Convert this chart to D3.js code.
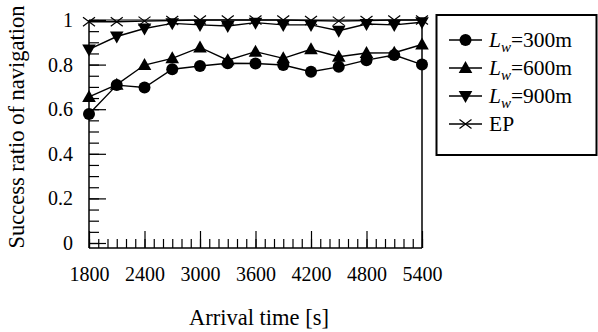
<!DOCTYPE html>
<html><head><meta charset="utf-8">
<script src="https://cdn.jsdelivr.net/npm/d3@7"></script>
<style>
html,body{margin:0;padding:0;background:#fff;}
text{font-family:"Liberation Serif","DejaVu Serif",serif;fill:#000;}
</style></head>
<body>
<svg id="chart" width="598" height="332"></svg>
<script>
const times = [1800,2100,2400,2700,3000,3300,3600,3900,4200,4500,4800,5100,5400];
const lw300 = [0.578,0.708,0.697,0.779,0.794,0.806,0.805,0.798,0.768,0.790,0.820,0.843,0.800];
const lw600 = [0.655,0.710,0.798,0.828,0.877,0.820,0.858,0.828,0.869,0.835,0.852,0.853,0.890];
const lw900 = [0.868,0.926,0.962,0.985,0.978,0.973,0.988,0.978,0.978,0.952,0.982,0.978,0.990];
const ep    = [0.992,0.992,0.995,0.998,1.0,1.0,1.0,1.0,0.998,0.995,0.998,1.0,1.0];
const xMajorTicks = [1800,2400,3000,3600,4200,4800,5400];
const yMajorTicks = [0,0.2,0.4,0.6,0.8,1];
const legendLabels = ["300m","600m","900m","EP"];

const svg = d3.select("#chart");
const x = d3.scaleLinear().domain([1800,5400]).range([89,422]);
const y = d3.scaleLinear().domain([0,1]).range([243,20]);
const yBottom = 248;

// frame
const g = svg.append("g");
g.append("line").attr("x1",89).attr("x2",89).attr("y1",y(1)).attr("y2",yBottom).attr("stroke","#000").attr("stroke-width",1.5);
g.append("line").attr("x1",89).attr("x2",422).attr("y1",yBottom).attr("y2",yBottom).attr("stroke","#000").attr("stroke-width",1.5);
g.append("line").attr("x1",422).attr("x2",422).attr("y1",y(1)).attr("y2",yBottom).attr("stroke","#000").attr("stroke-width",1.5);
g.append("line").attr("x1",89).attr("x2",422).attr("y1",y(1)).attr("y2",y(1)).attr("stroke","#000").attr("stroke-width",1.2);

// x axis ticks
const xMinor = d3.range(1800,5401,100);
const xaMinor = svg.append("g").attr("transform",`translate(0,${yBottom})`)
  .call(d3.axisBottom(x).tickValues(xMinor).tickSize(-9).tickFormat(""));
const xaMajor = svg.append("g").attr("transform",`translate(0,${yBottom})`)
  .call(d3.axisBottom(x).tickValues(xMajorTicks).tickSize(-17).tickPadding(19).tickFormat(d3.format("d")));
[xaMinor,xaMajor].forEach(a=>{a.select(".domain").remove(); a.selectAll("line").attr("stroke","#000").attr("stroke-width",1.2);});
xaMajor.selectAll("text").attr("font-size",20);

// y axis ticks
const yMinor = d3.range(0,1.0001,0.05);
const yaMinor = svg.append("g").attr("transform","translate(89,0)")
  .call(d3.axisLeft(y).tickValues(yMinor).tickSize(-10).tickFormat(""));
const yaMajor = svg.append("g").attr("transform","translate(89,0)")
  .call(d3.axisLeft(y).tickValues(yMajorTicks).tickSize(-17).tickPadding(16).tickFormat(d=>d3.format("")(+d.toFixed(1))));
[yaMinor,yaMajor].forEach(a=>{a.select(".domain").remove(); a.selectAll("line").attr("stroke","#000").attr("stroke-width",1.2);});
yaMajor.selectAll("text").attr("font-size",20);

// titles
svg.append("text").attr("x",259).attr("y",325).attr("text-anchor","middle").attr("font-size",22.5).text("Arrival time [s]");
svg.append("text").attr("transform","translate(24,127) rotate(-90)").attr("text-anchor","middle").attr("font-size",22.5).text("Success ratio of navigation");

// markers
function drawMarker(sel, type){
  if(type==="circle") sel.append("circle").attr("r",6).attr("fill","#000");
  else if(type==="up") sel.append("path").attr("d","M0,-7L6.8,5L-6.8,5Z").attr("fill","#000");
  else if(type==="down") sel.append("path").attr("d","M0,7L6.8,-5L-6.8,-5Z").attr("fill","#000");
  else if(type==="x") sel.append("path").attr("d","M-6,-4.5L6,4.5M-6,4.5L6,-4.5").attr("stroke","#000").attr("stroke-width",1.2).attr("fill","none");
}
const series = [
  {vals:lw300,m:"circle"},
  {vals:lw600,m:"up"},
  {vals:lw900,m:"down"},
  {vals:ep,m:"x"}
];
const line = d3.line().x((d,i)=>x(times[i])).y(d=>y(d));
series.slice().reverse().forEach(s=>{
  svg.append("path").datum(s.vals).attr("d",line).attr("fill","none").attr("stroke","#000").attr("stroke-width",1.4);
});
series.slice().reverse().forEach(s=>{
  s.vals.forEach((v,i)=>{
    const mg = svg.append("g").attr("transform",`translate(${x(times[i])},${y(v)})`);
    drawMarker(mg,s.m);
  });
});

// legend
const lg = svg.append("g");
lg.append("rect").attr("x",436.5).attr("y",15).attr("width",160).attr("height",140).attr("fill","#fff").attr("stroke","#000").attr("stroke-width",2);
const rowY = [40,68,96,124];
series.forEach((s,i)=>{
  lg.append("line").attr("x1",449).attr("x2",482).attr("y1",rowY[i]).attr("y2",rowY[i]).attr("stroke","#000").attr("stroke-width",1.4);
  const mg = lg.append("g").attr("transform",`translate(465.5,${rowY[i]})`);
  drawMarker(mg,s.m);
  const t = lg.append("text").attr("x",489).attr("y",rowY[i]+7).attr("font-size",21.5);
  if(i<3){
    t.append("tspan").attr("font-style","italic").text("L");
    t.append("tspan").attr("font-style","italic").attr("font-size",15).attr("dy",5).text("w");
    t.append("tspan").attr("dy",-5).text("=" + legendLabels[i]);
  } else {
    t.text(legendLabels[i]);
  }
});
</script>
</body></html>
